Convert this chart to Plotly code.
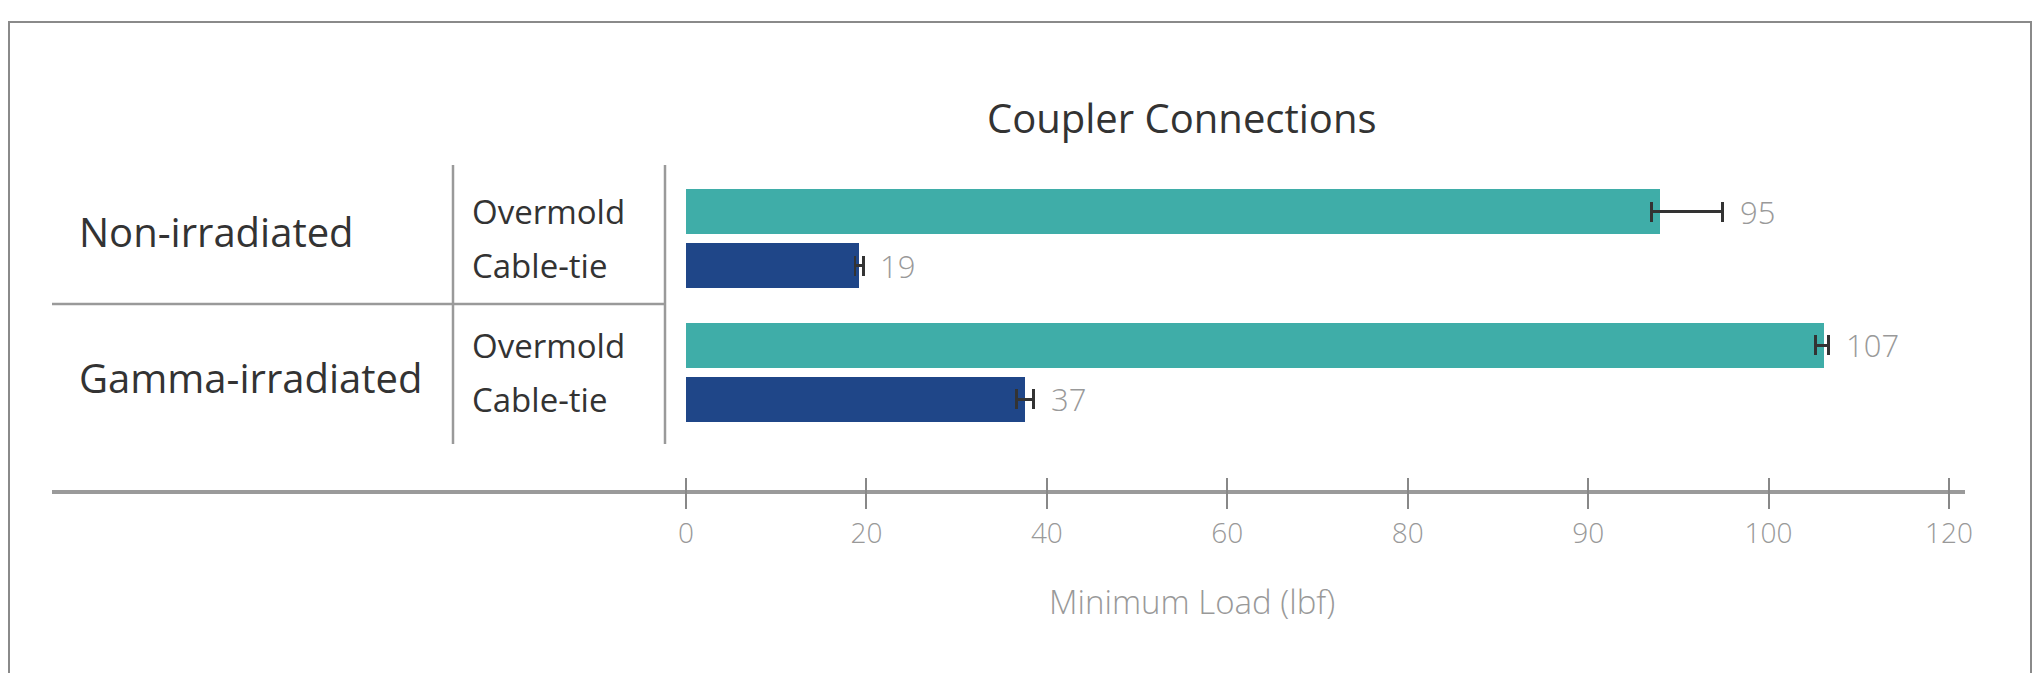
import numpy as np
import plotly.graph_objects as go

# ---------------- data ----------------
groups = ["Non-irradiated", "Gamma-irradiated"]
materials = ["Overmold", "Cable-tie"]
# drawn bar lengths (lbf, read against the printed axis labels)
load_overmold = [94.0, 106.1]
load_cabletie = [19.2, 37.6]
# printed value labels
label_overmold = [95, 107]
label_cabletie = [19, 37]
# error bars (lbf)
err_plus_overmold = [3.45, 0.55]
err_minus_overmold = [0.5, 0.9]
err_plus_cabletie = [0.45, 0.95]
err_minus_cabletie = [0.45, 0.95]
# axis tick labels (evenly spaced on the printed axis)
tick_labels = [0, 20, 40, 60, 80, 90, 100, 120]

PAGE_W, PAGE_H = 2040, 681
BODY_MARGIN = 8          # default browser body margin
W, H = PAGE_W - 2 * BODY_MARGIN, PAGE_H - 2 * BODY_MARGIN
FONT = "Open Sans"
DARK = "#333333"
GREY_TXT = "#999999"
LINE = "#9a9a9a"
TEAL = "#3FADA8"
NAVY = "#1F4688"


def px(x):
    return (x - BODY_MARGIN) / W


def py(y):
    return 1 - (y - BODY_MARGIN) / H


tick_pos = np.arange(len(tick_labels), dtype=float)


def pos(v):
    """map a load value onto the printed (evenly spaced) axis"""
    return np.interp(v, tick_labels, tick_pos)


GROUP_STEP = 2.48
y_over = [g * GROUP_STEP for g in range(len(groups))]
y_cable = [g * GROUP_STEP + 1 for g in range(len(groups))]

fig = go.Figure()
series = [
    ("Overmold", load_overmold, label_overmold, err_plus_overmold, err_minus_overmold, y_over, TEAL),
    ("Cable-tie", load_cabletie, label_cabletie, err_plus_cabletie, err_minus_cabletie, y_cable, NAVY),
]
annotations = []
for name, vals, labs, ep, em, ys, col in series:
    vals = np.array(vals)
    x = pos(vals)
    plus = pos(vals + np.array(ep)) - x
    minus = x - pos(vals - np.array(em))
    fig.add_trace(go.Bar(
        x=x, y=ys, orientation="h", name=name,
        marker=dict(color=col, line=dict(width=0)), width=0.833,
        error_x=dict(type="data", symmetric=False, array=plus, arrayminus=minus,
                     color=DARK, thickness=2.6, width=10),
        showlegend=False, hoverinfo="skip",
    ))
    for xi, pi, yi, li in zip(x, plus, ys, labs):
        annotations.append(dict(x=xi + pi, y=yi, xref="x", yref="y", text=str(li),
                                showarrow=False, xanchor="left", yanchor="middle", xshift=15,
                                font=dict(family=FONT, size=31, color=GREY_TXT, weight=300)))
    for yi in ys:
        annotations.append(dict(x=px(470), y=yi, xref="paper", yref="y", text=name,
                                showarrow=False, xanchor="left", yanchor="middle",
                                font=dict(family=FONT, size=33, color=DARK, weight=400)))

# group labels sit in the middle of their table cells
group_label_y = [231.5, 377.5]
for gname, gy in zip(groups, group_label_y):
    annotations.append(dict(x=px(77), y=py(gy), xref="paper", yref="paper",
                            text=gname, showarrow=False, xanchor="left", yanchor="middle",
                            font=dict(family=FONT, size=40, color=DARK, weight=400)))
annotations.append(dict(x=px(1192), y=py(601), xref="paper", yref="paper", text="Minimum Load (lbf)",
                        showarrow=False, xanchor="center", yanchor="middle",
                        font=dict(family=FONT, size=33, color=GREY_TXT, weight=300)))
annotations.append(dict(x=px(1182), y=py(117), xref="paper", yref="paper", text="Coupler Connections",
                        showarrow=False, xanchor="center", yanchor="middle",
                        font=dict(family=FONT, size=40, color=DARK, weight=400)))

shapes = [
    # outer frame
    dict(type="rect", xref="paper", yref="paper", x0=px(9), x1=px(2031), y0=-0.2, y1=py(22),
         line=dict(color="#8a8a8a", width=2)),
    # table lines
    dict(type="line", xref="paper", yref="paper", x0=px(453), x1=px(453), y0=py(165), y1=py(444),
         line=dict(color=LINE, width=2.5)),
    dict(type="line", xref="paper", yref="paper", x0=px(665), x1=px(665), y0=py(165), y1=py(444),
         line=dict(color=LINE, width=2.5)),
    dict(type="line", xref="paper", yref="paper", x0=px(52), x1=px(665), y0=py(304), y1=py(304),
         line=dict(color=LINE, width=2.5)),
    # axis baseline
    dict(type="line", xref="paper", yref="paper", x0=px(52), x1=px(1965), y0=py(492), y1=py(492),
         line=dict(color=LINE, width=4), layer="below"),
]

unit = 54.0
y_top = (165 - 211.5) / unit
y_bot = (477 - 211.5) / unit

fig.update_layout(
    width=W, height=H, autosize=False,
    margin=dict(l=0, r=0, t=0, b=0, pad=0, autoexpand=False),
    paper_bgcolor="white", plot_bgcolor="rgba(0,0,0,0)",
    bargap=0, showlegend=False,
    xaxis=dict(domain=[px(686), px(1949)], range=[0, 7], automargin=False,
               tickmode="array", tickvals=tick_pos, ticktext=[str(t) for t in tick_labels],
               ticks="outside", ticklen=31, tickwidth=2, tickcolor="#888888",
               tickfont=dict(family=FONT, size=28, color=GREY_TXT, weight=300),
               showline=False, showgrid=False, zeroline=False, fixedrange=True),
    yaxis=dict(domain=[py(477), py(165)], range=[y_bot, y_top], automargin=False,
               showticklabels=False, ticks="", showline=False, showgrid=False, zeroline=False,
               fixedrange=True),
    annotations=annotations, shapes=shapes, font=dict(family=FONT),
)

fig.write_html("out.html", config={"displayModeBar": False, "responsive": False})
